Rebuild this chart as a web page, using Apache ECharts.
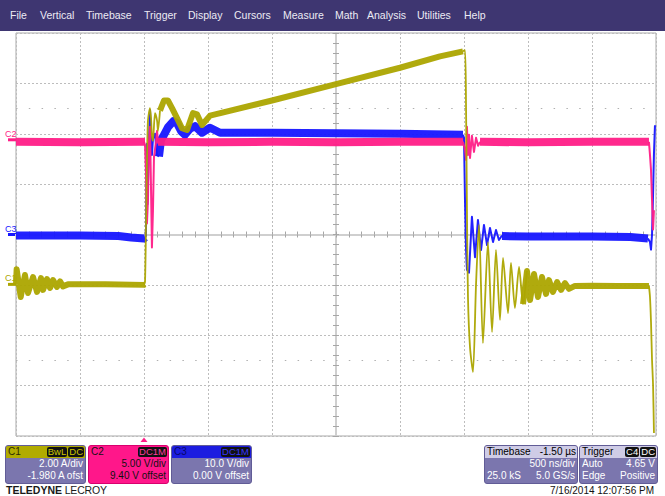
<!DOCTYPE html>
<html>
<head>
<meta charset="utf-8">
<title>LeCroy capture</title>
<script src="https://cdn.jsdelivr.net/npm/echarts@6/dist/echarts.min.js"></script>
<style>
html, body { margin: 0; padding: 0; width: 665px; height: 496px; overflow: hidden; background: #fff;
  font-family: "Liberation Sans", Arial, sans-serif; }
#scope { position: absolute; left: 0; top: 0; width: 665px; height: 496px; }
#menu { position: absolute; left: 0; top: 0; width: 665px; height: 31px; background: #3e3671; }
#menu span { position: absolute; top: 9px; font-size: 10.5px; color: #ecebf4; }
.panel { position: absolute; top: 445px; height: 39px; box-sizing: border-box; background: #7b76ae;
  border: 1px solid #615c96; border-radius: 3px; overflow: hidden; color: #fff; font-size: 10px; }
.hdr { position: relative; height: 12px; line-height: 12px; padding: 0 2px; }
.row { position: relative; height: 12px; line-height: 12px; padding: 0 2px; text-align: right; }
.l { position: absolute; left: 2px; top: 0; }
.r { position: absolute; right: 1px; top: 0; }
.badge { display: inline-block; background: #111; border-radius: 2px; padding: 0 1px; height: 10px;
  line-height: 10px; margin: 1px 0 0 1px; font-size: 9.5px; }
.light { background: #cfcce6; color: #000; }
#brand { position: absolute; left: 6px; top: 484px; font-size: 10.5px; color: #1a1a1a; letter-spacing: -0.2px; }
#brand b { letter-spacing: 0; }
#stamp { position: absolute; right: 11px; top: 485px; font-size: 10px; color: #111; }
</style>
</head>
<body>
<div id="scope"></div>

<div id="menu">
  <span style="left:10px">File</span>
  <span style="left:40px">Vertical</span>
  <span style="left:86px">Timebase</span>
  <span style="left:144px">Trigger</span>
  <span style="left:188px">Display</span>
  <span style="left:234px">Cursors</span>
  <span style="left:283px">Measure</span>
  <span style="left:335px">Math</span>
  <span style="left:367px">Analysis</span>
  <span style="left:417px">Utilities</span>
  <span style="left:464px">Help</span>
</div>

<div class="panel" style="left:5px;width:81px;">
  <div class="hdr" style="background:#b1ab00;color:#2a2a00;">C1<span class="r"><span class="badge" style="color:#cdc600">BwL</span><span class="badge" style="color:#cdc600">DC</span></span></div>
  <div class="row">2.00 A/div</div>
  <div class="row">-1.980 A ofst</div>
</div>
<div class="panel" style="left:88px;width:81px;background:#ff178a;border-color:#d8006e;color:#111;">
  <div class="hdr">C2<span class="r"><span class="badge" style="color:#ff3d9e">DC1M</span></span></div>
  <div class="row">5.00 V/div</div>
  <div class="row">9.40 V offset</div>
</div>
<div class="panel" style="left:171px;width:81px;">
  <div class="hdr" style="background:#1c1ce0;color:#08086a;">C3<span class="r"><span class="badge" style="color:#3535ff">DC1M</span></span></div>
  <div class="row">10.0 V/div</div>
  <div class="row">0.00 V offset</div>
</div>

<div class="panel" style="left:484px;width:94px;">
  <div class="hdr light">Timebase<span class="r">-1.50 µs</span></div>
  <div class="row">500 ns/div</div>
  <div class="row"><span class="l">25.0 kS</span>5.0 GS/s</div>
</div>
<div class="panel" style="left:579px;width:79px;">
  <div class="hdr light">Trigger<span class="r"><span class="badge" style="color:#fff">C4</span><span class="badge" style="color:#fff">DC</span></span></div>
  <div class="row"><span class="l">Auto</span>4.65 V</div>
  <div class="row"><span class="l">Edge</span>Positive</div>
</div>

<div id="brand"><b>TELEDYNE</b> LECROY</div>
<div id="stamp">7/16/2014 12:07:56 PM</div>

<script>
// 时间轴单位 ns，触发点为 0（500 ns/div）
// 各通道刻度：值 = 格数 * scale - offset
var c1Scale = 2.0, c1Offset = -1.98;   // A/div
var c2Scale = 5.0, c2Offset = 9.40;    // V/div
var c3Scale = 10.0, c3Offset = 0.0;    // V/div

var c1Color = '#aca500';
var c2Color = '#ff1d87';
var c3Color = '#1616ff';

// C1 电流（A）——噪声带部分
var c1BandT = [-1000, -995, -963, -930, -906, -867, -836, -805, -789, -758, -734, -711, -680, -656, -633, -594, -300, 0, 8, 12,
    125, 156, 187, 219, 258, 297, 336, 383, 414, 453, 516, 1000, 1500, 2000, 2312, 2492, 2500,
    2961, 2992, 3016, 3047, 3078, 3109, 3141, 3164, 3195, 3227, 3258, 3289, 3320, 3367, 3500, 3700, 3945];
var c1BandA = [0.0, 0.6, -0.5, 0.37, -0.34, 0.29, -0.3, 0.25, -0.22, 0.21, -0.14, 0.17, -0.1, 0.12, -0.08, 0.0, 0.0, -0.02, 0.0, null,
    6.9, 7.3, 7.3, 7.0, 6.6, 6.2, 6.13, 6.8, 6.75, 6.33, 6.7, 7.3, 7.95, 8.6, 9.05, 9.25, null,
    -0.78, 0.53, -0.62, 0.41, -0.5, 0.29, -0.38, 0.17, -0.3, 0.09, -0.22, 0.05, -0.18, -0.06, -0.05, -0.06, -0.06];
// C1 开关沿与振荡
var c1EdgeT = [0, 8, 16, 23, 31, 47, 55, 62, 70, 86, 102, 109, 125, 130,
    2492, 2508, 2516, 2523, 2531, 2547, 2570, 2594, 2617, 2648, 2687, 2719, 2750, 2781, 2805, 2844, 2867, 2898, 2930, 2961, 2992, 3000,
    3945, 3953, 3961, 3969, 3977, 3984];
var c1EdgeA = [0.0, 0.1, 2.5, 4.8, 6.5, 7.0, 6.6, 5.9, 5.7, 6.8, 6.5, 6.1, 6.9, null,
    9.25, 9.3, 7.0, 3.0, -0.5, -2.5, -3.48, 0.0, 2.36, -2.33, 1.68, -1.89, 1.37, -1.41, 1.05, -1.14, 0.85, -0.94, 0.69, -0.78, 0.53, null,
    -0.06, -0.5, -1.5, -3.0, -4.0, -5.9];

// C2 电压（V）
var c2BandT = [-1000, -500, 0, 8, 12, 110, 500, 1000, 1500, 2000, 2492, 2500, 2625, 3000, 3500, 3945];
var c2BandV = [-0.2, -0.25, -0.2, -0.2, null, -0.2, -0.25, -0.2, -0.25, -0.2, -0.2, null, -0.2, -0.25, -0.2, -0.2];
var c2EdgeT = [0, 8, 15, 23, 31, 39, 47, 55, 62, 70, 78, 94, 102, 110, 125, 130,
    2492, 2508, 2516, 2523, 2531, 2539, 2547, 2562, 2578, 2594, 2610, 2625, 2630,
    3945, 3953, 3961, 3969, 3977, 3984];
var c2EdgeV = [-0.2, -0.5, -3.0, -8.3, -6.0, -0.1, 1.3, -5.0, -10.7, -7.0, -1.7, -0.2, 0.9, -0.3, -0.2, null,
    -0.2, -1.0, -2.0, 1.3, -1.5, 0.5, -1.8, 0.4, -1.2, 0.2, -0.6, -0.2, null,
    -0.2, -1.5, -3.0, -6.0, -8.9, -7.0];

// C3 电压（V）
var c3BandT = [-1000, -500, -200, -100, 0, 8, 12,
    117, 133, 150, 188, 230, 258, 290, 320, 360, 398, 453, 516, 594, 1000, 1500, 2000, 2492, 2500,
    2797, 3000, 3500, 3800, 3937];
var c3BandV = [-0.2, -0.2, -0.3, -0.6, -0.8, -0.6, null,
    15.5, 18.8, 19.5, 21.3, 22.5, 22.1, 20.5, 19.8, 21.0, 21.5, 20.2, 21.2, 20.2, 20.2, 20.1, 20.0, 19.8, null,
    -0.3, -0.4, -0.4, -0.5, -0.8];
var c3EdgeT = [8, 15, 20, 23, 27, 31, 39, 47, 55, 62, 70, 86, 101, 117, 122,
    2492, 2500, 2508, 2516, 2523, 2539, 2562, 2586, 2609, 2633, 2656, 2680, 2703, 2727, 2750, 2773, 2797, 2800,
    3937, 3953, 3961, 3969, 3977, 3984, 3992];
var c3EdgeV = [-0.6, -0.3, 12, 18, 6, 10, 19, 24.7, 19, 15.8, 19, 20, 15.8, 15.5, null,
    19.8, 19.2, 6.5, -3.0, -7.0, -7.6, 3.5, -4.5, 2.9, -3.1, 1.9, -2.1, 1.3, -1.5, 0.9, -1.1, -0.2, null,
    -0.8, -1.5, -3.0, 0.0, 8.0, 16.0, 21.7];

// 网格上的点状行（格）
var dotRows = [2.5, -2.5];

function pairs(t, v) {
    return t.map(function (x, i) {
        return [x, v[i]];
    });
}

function trace(name, t, v, yIdx, color, width, z, smooth) {
    return {
        name: name,
        type: 'line',
        xAxisIndex: 0,
        yAxisIndex: yIdx,
        data: pairs(t, v),
        symbol: 'none',
        showSymbol: false,
        connectNulls: false,
        smooth: smooth || false,
        silent: true,
        z: z,
        lineStyle: { color: color, width: width, join: 'round', opacity: 0.95 }
    };
}

// 中心十字线（两侧各一条刻度）
function centerX(inside) {
    return {
        type: 'value', min: -1000, max: 4000, interval: 100,
        axisLine: { show: true, onZero: true, onZeroAxisIndex: 0, lineStyle: { color: '#cfcfcf', width: 2 } },
        axisTick: { show: true, inside: inside, length: 3, lineStyle: { color: '#a6a6a6', width: 1 } },
        axisLabel: { show: false },
        splitLine: { show: false }
    };
}

function centerY(inside) {
    return {
        type: 'value', min: -4, max: 4, interval: 0.2,
        axisLine: { show: true, onZero: true, onZeroAxisIndex: 3, lineStyle: { color: '#cfcfcf', width: 2 } },
        axisTick: { show: true, inside: inside, length: 3, lineStyle: { color: '#a6a6a6', width: 1 } },
        axisLabel: { show: false },
        splitLine: { show: false }
    };
}

function channelAxis(scale, offset) {
    return { type: 'value', min: -4 * scale - offset, max: 4 * scale - offset, show: false };
}

var chart = echarts.init(document.getElementById('scope'), null, { renderer: 'svg' });

var dotted = { color: '#bdbdbd', type: [2, 2], width: 1 };

var option = {
    animation: false,
    backgroundColor: 'transparent',
    grid: {
        left: 16, top: 33, width: 640, height: 403,
        show: true, backgroundColor: '#fff', borderColor: '#a9a9a9', borderWidth: 1
    },
    xAxis: [
        {
            type: 'value', min: -1000, max: 4000, interval: 500,
            axisLine: { show: false }, axisTick: { show: false }, axisLabel: { show: false },
            splitLine: { show: true, lineStyle: dotted }
        },
        centerX(true),
        centerX(false),
        { type: 'value', min: -2.5, max: 2.5, show: false }
    ],
    yAxis: [
        {
            type: 'value', min: -4, max: 4, interval: 1,
            axisLine: { show: false }, axisTick: { show: false }, axisLabel: { show: false },
            splitLine: { show: true, lineStyle: dotted }
        },
        centerY(true),
        centerY(false),
        channelAxis(c1Scale, c1Offset),
        channelAxis(c2Scale, c2Offset),
        channelAxis(c3Scale, c3Offset)
    ],
    series: [
        {
            name: 'rows',
            type: 'line',
            xAxisIndex: 0,
            yAxisIndex: 0,
            data: [],
            silent: true,
            markLine: {
                silent: true,
                symbol: 'none',
                label: { show: false },
                lineStyle: { color: '#b0b0b0', type: [1.5, 11.3], width: 1 },
                data: dotRows.map(function (d) { return { yAxis: d }; })
            }
        },
        trace('C3', c3BandT, c3BandV, 5, c3Color, 8, 3),
        trace('C3 edge', c3EdgeT, c3EdgeV, 5, c3Color, 2, 4),
        trace('C2', c2BandT, c2BandV, 4, c2Color, 8, 5),
        trace('C2 edge', c2EdgeT, c2EdgeV, 4, c2Color, 2, 6),
        trace('C1', c1BandT, c1BandA, 3, c1Color, 6, 7),
        trace('C1 edge', c1EdgeT, c1EdgeA, 3, c1Color, 1.8, 8, 0.25)
    ]
};

chart.setOption(option);

// 左侧通道零位标记 + 底部触发标记
var marks = [];
[['C1', 3, c1Color], ['C2', 4, c2Color], ['C3', 5, c3Color]].forEach(function (m) {
    var py = chart.convertToPixel({ yAxisIndex: m[1] }, 0);
    marks.push({
        type: 'text',
        silent: true,
        style: { text: m[0], x: 5, y: py - 6, fill: m[2], font: '9px "Liberation Sans", Arial', verticalAlign: 'middle' }
    });
    marks.push({
        type: 'rect',
        silent: true,
        shape: { x: 8, y: py - 1.5, width: 8, height: 3 },
        style: { fill: m[2] }
    });
});
var tx = chart.convertToPixel({ xAxisIndex: 0 }, 0);
marks.push({
    type: 'polygon',
    silent: true,
    shape: { points: [[tx - 3.5, 442], [tx + 3.5, 442], [tx, 437.5]] },
    style: { fill: c2Color }
});
chart.setOption({ graphic: marks });
</script>
</body>
</html>
